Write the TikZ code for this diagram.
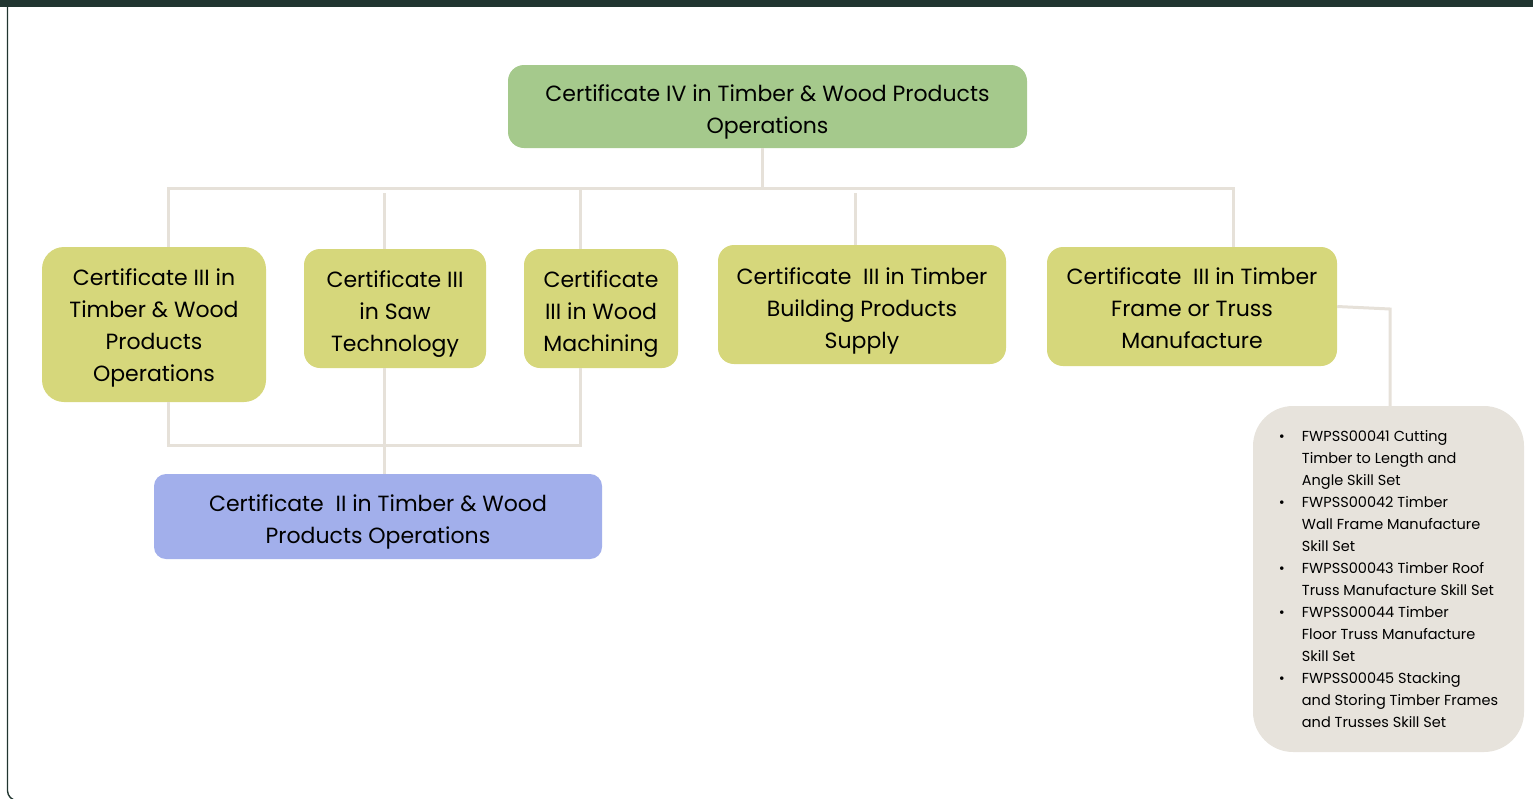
\documentclass[tikz,border=0pt]{standalone}
\usepackage{fontspec}
\setmainfont{Poppins}
\definecolor{barcol}{HTML}{213530}
\definecolor{topgreen}{HTML}{A5C98C}
\definecolor{certyellow}{HTML}{D6D77B}
\definecolor{certblue}{HTML}{A2AFEB}
\definecolor{skillbeige}{HTML}{E7E3DC}
\definecolor{linkgray}{HTML}{E6E1D9}
% strut on the first line pushes the text down
\newcommand{\dropby}[1]{\rule{0pt}{\dimexpr 16.3pt+#1pt+#1pt\relax}}
\newcommand{\bul}{\makebox[23pt][l]{\textbullet}}
\newcommand{\ind}{\hspace*{23pt}}
\begin{document}
\begin{tikzpicture}[x=1pt,y=-1pt]
    \tikzstyle{every node}=[shape=rectangle,rounded corners=16pt,inner sep=0pt,align=center,font=\fontsize{22}{32}\selectfont];
    \tikzstyle{cert}=[fill=certyellow,minimum height=119pt];
    \tikzstyle{link}=[draw=linkgray,line width=3pt];
    \useasboundingbox (0,0) rectangle (1533,798);

    % frame
    \fill[barcol] (0,0) rectangle (1533,7);
    \draw[barcol,line width=1.4pt,rounded corners=10pt] (7.5,6) -- (7.5,800.6) -- (1560,800.6);

    \node at (767.5,106.5) (cert4) [fill=topgreen,minimum width=519pt,minimum height=83pt] {\dropby{5.5}Certificate IV in Timber \& Wood Products\\Operations};
    \node at (154,324.5)   (twp)   [cert,minimum width=224pt,minimum height=155pt,rounded corners=22pt] {\dropby{4}Certificate III in\\Timber \& Wood\\Products\\Operations};
    \node at (395,308.5)   (saw)   [cert,minimum width=182pt] {\dropby{6}Certificate III\\in Saw\\Technology};
    \node at (601,308.5)   (mach)  [cert,minimum width=154pt] {\dropby{6}Certificate\\III in Wood\\Machining};
    \node at (862,304.5)   (bps)   [cert,minimum width=288pt] {\dropby{6.5}Certificate~ III in Timber\\Building Products\\Supply};
    \node at (1192,306.5)  (frame) [cert,minimum width=290pt] {\dropby{2}Certificate~ III in Timber\\Frame or Truss\\Manufacture};
    \node at (378,516.5)   (cert2) [fill=certblue,minimum width=448pt,minimum height=85pt,rounded corners=12pt] {\dropby{5.5}Certificate~ II in Timber \& Wood\\Products Operations};
    \node at (1388.5,579)  (skills) [fill=skillbeige,minimum width=271pt,minimum height=346pt,rounded corners=40pt,align=left,font=\fontsize{14.5}{22}\selectfont]
      {\bul FWPSS00041 Cutting\\
       \ind Timber to Length and\\
       \ind Angle Skill Set\\
       \bul FWPSS00042 Timber\\
       \ind Wall Frame Manufacture\\
       \ind Skill Set\\
       \bul FWPSS00043 Timber Roof\\
       \ind Truss Manufacture Skill Set\\
       \bul FWPSS00044 Timber\\
       \ind Floor Truss Manufacture\\
       \ind Skill Set\\
       \bul FWPSS00045 Stacking\\
       \ind and Storing Timber Frames\\
       \ind and Trusses Skill Set};

    \coordinate (busT) at (0,188);
    \coordinate (busT2) at (0,193);
    \coordinate (busB) at (0,445);
    \coordinate (elbow) at (1390,309);

    \draw[link] (cert4.south -| 762,0) -- (762,0 |- busT);
    \draw[link] ([xshift=14]twp.north) -- ([xshift=14]twp.north |- busT) -- ([xshift=41]frame.north |- busT) -- ([xshift=41]frame.north);
    \draw[link] ([xshift=-11]saw.north) -- ([xshift=-11]saw.north |- busT2);
    \draw[link] ([xshift=-21]mach.north) -- ([xshift=-21]mach.north |- busT);
    \draw[link] ([xshift=-7]bps.north) -- ([xshift=-7]bps.north |- busT2);
    \draw[link] ([xshift=14]twp.south) -- ([xshift=14]twp.south |- busB) -- ([xshift=-21]mach.south |- busB) -- ([xshift=-21]mach.south);
    \draw[link] ([xshift=-11]saw.south) -- ([xshift=-11]saw.south |- cert2.north);
    \draw[link] (frame.east) -- (elbow) -- (elbow |- skills.north);
\end{tikzpicture}
\end{document}
